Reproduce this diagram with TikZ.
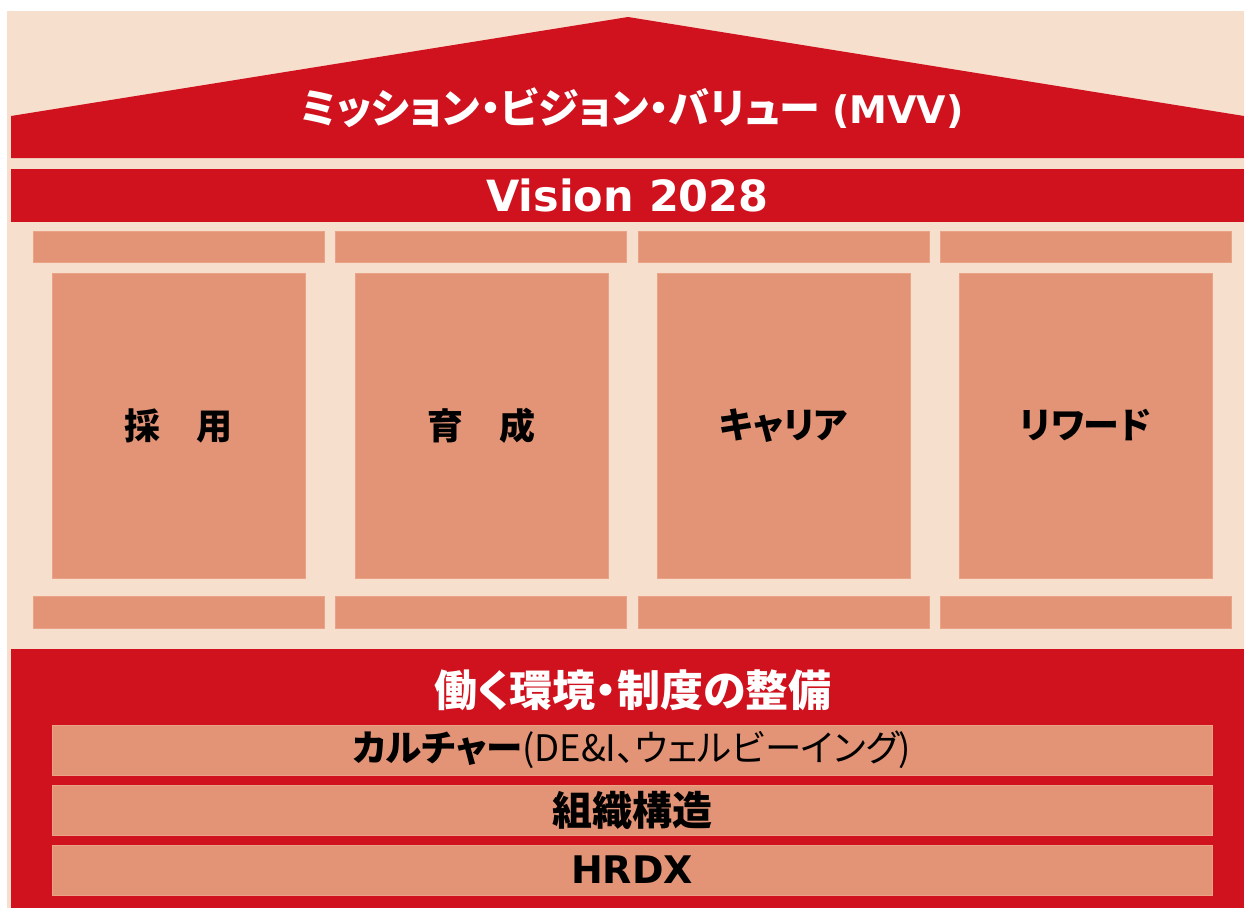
\documentclass[tikz,border=0pt]{standalone}
\usepackage{fontspec}
\newfontfamily\jp{Noto Sans CJK JP}[RawFeature=+palt]
\newfontfamily\lat{DejaVu Sans}
\definecolor{hred}{HTML}{D0121F}
\definecolor{peach}{HTML}{F6DFCD}
\definecolor{salmon}{HTML}{E39476}
\definecolor{salmonedge}{HTML}{EAA386}
\tikzset{
  blk/.style={rectangle, inner sep=0pt, anchor=north west, outer sep=0pt},
  redbar/.style={blk, fill=hred, text=white},
  sbox/.style={blk, fill=salmon, draw=salmonedge, line width=0.8pt},
  pillartxt/.style={font=\jp\bfseries\fontsize{36}{40}\selectfont},
  rowtxt/.style={font=\jp\bfseries\fontsize{40}{44}\selectfont},
}
\begin{document}
\begin{tikzpicture}[x=1pt,y=-1pt]
\useasboundingbox (0,0) rectangle (1244,908);
\fill[peach] (7,11) rectangle (1244,908);
% roof
\fill[hred] (11,158) -- (11,116) -- (628,17) -- (1244,116) -- (1244,158) -- cycle;
\node[text=white, font=\jp\bfseries\fontsize{41}{45}\selectfont] (mvv) at (632,108)
  {ミッション・ビジョン・バリュー\hspace{0.3em}{\lat\bfseries\fontsize{38}{42}\selectfont (MVV)}};
% vision
\node[redbar, minimum width=1233pt, minimum height=53pt,
  font=\lat\bfseries\fontsize{43}{46}\selectfont] (vision) at (11,169) {\raisebox{-2pt}{Vision 2028}};
% top bars
\node[sbox, minimum width=291pt, minimum height=31pt] (t1) at (33,231) {};
\node[sbox, minimum width=291pt, minimum height=31pt] (t2) at (335,231) {};
\node[sbox, minimum width=291pt, minimum height=31pt] (t3) at (638,231) {};
\node[sbox, minimum width=291pt, minimum height=31pt] (t4) at (940,231) {};
% pillars
\node[sbox, minimum width=253pt, minimum height=305pt, pillartxt] (p1) at (52,273) {採\hspace{1em}用};
\node[sbox, minimum width=253pt, minimum height=305pt, pillartxt] (p2) at (355,273) {育\hspace{1em}成};
\node[sbox, minimum width=253pt, minimum height=305pt, pillartxt] (p3) at (657,273) {キャリア};
\node[sbox, minimum width=253pt, minimum height=305pt, pillartxt] (p4) at (959,273) {リワード};
% bottom bars
\node[sbox, minimum width=291pt, minimum height=32pt] (b1) at (33,596) {};
\node[sbox, minimum width=291pt, minimum height=32pt] (b2) at (335,596) {};
\node[sbox, minimum width=291pt, minimum height=32pt] (b3) at (638,596) {};
\node[sbox, minimum width=291pt, minimum height=32pt] (b4) at (940,596) {};
% foundation
\node[redbar, minimum width=1233pt, minimum height=259pt] (base) at (11,649) {};
\node[text=white, font=\jp\bfseries\fontsize{43}{47}\selectfont] (basettl) at (633,690) {働く環境・制度の整備};
\node[sbox, minimum width=1160pt, minimum height=50pt] (r1) at (52,725)
  {\jp\fontsize{36.5}{40}\selectfont{\bfseries カルチャー}(DE\&I、ウェルビーイング)};
\node[sbox, minimum width=1160pt, minimum height=50pt, rowtxt] (r2) at (52,785) {組織構造};
\node[sbox, minimum width=1160pt, minimum height=50pt, font=\lat\bfseries\fontsize{38}{42}\selectfont] (r3) at (52,845) {HRDX};
\end{tikzpicture}
\end{document}
